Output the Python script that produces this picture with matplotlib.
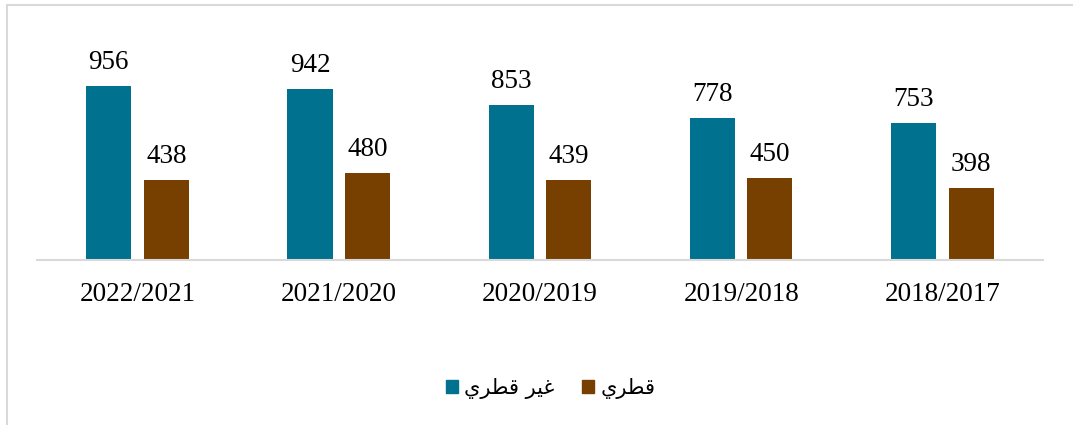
import matplotlib
matplotlib.use("Agg")
import matplotlib.pyplot as plt
import numpy as np
from matplotlib.patches import Patch, Rectangle

years = ["2022/2021", "2021/2020", "2020/2019", "2019/2018", "2018/2017"]
non_qatari = [956, 942, 853, 778, 753]
qatari = [438, 480, 439, 450, 398]
# Arabic labels in presentation forms, visual order (matplotlib does no shaping)
label_non_qatari = "\uFEF1\uFEAE\uFEC4\uFED7 \uFEAE\uFEF4\uFECF"  # غير قطري
label_qatari = "\uFEF1\uFEAE\uFEC4\uFED7"  # قطري

teal = "#00718E"
brown = "#773F00"

fig = plt.figure(figsize=(10.73, 4.25), dpi=100)
ax = fig.add_axes([0.0345, 0.388, 0.9375, 0.514])

x = np.arange(len(years))
w = 0.224
b1 = ax.bar(x - 0.143, non_qatari, w, color=teal)
b2 = ax.bar(x + 0.143, qatari, w, color=brown)

serif = "Liberation Serif"
ax.bar_label(b1, padding=8, fontsize=19.5, family=serif)
ax.bar_label(b2, padding=8, fontsize=19.5, family=serif)

ax.set_xlim(-0.5, len(years) - 0.5)
ax.set_ylim(0, 1200)
ax.set_xticks(x)
ax.set_xticklabels(years, fontsize=19.5, family=serif)
ax.tick_params(axis="x", length=0, pad=15.5)
ax.set_yticks([])
for s in ["top", "right", "left"]:
    ax.spines[s].set_visible(False)
ax.spines["bottom"].set_color("#D9D9D9")
ax.spines["bottom"].set_linewidth(1.5)

handles = [Patch(color=teal, label=label_non_qatari),
           Patch(color=brown, label=label_qatari)]
fig.legend(handles=handles, loc="center", bbox_to_anchor=(0.513, 0.087), ncol=2,
           frameon=False, prop={"family": "DejaVu Sans", "size": 15},
           handlelength=0.6, handleheight=0.6, handletextpad=0.3, columnspacing=1.3)

# outer chart border (only left and top visible in the crop)
fig.patches.append(Rectangle((0.0065, -0.1), 1.2, 1.088, transform=fig.transFigure,
                             fill=False, edgecolor="#D9D9D9", linewidth=1.5))

fig.savefig("out.png", dpi=100)
